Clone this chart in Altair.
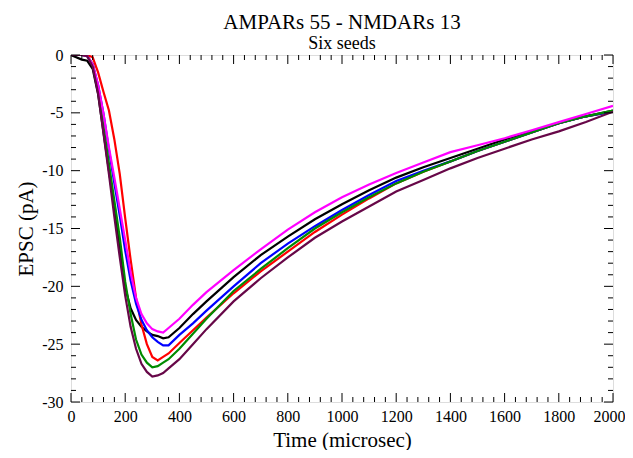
import altair as alt
import pandas as pd

# Time grid (microsec) and EPSC (pA)
T = [0, 40, 60, 80, 100, 120, 140, 160, 180, 200, 220, 240, 260, 280, 300, 320, 340, 360,
     400, 450, 500, 600, 700, 800, 900, 1000, 1100, 1200, 1300, 1400, 1500, 1600, 1700,
     1800, 1900, 2000]

black = [0, -0.4, -0.5, -1.2, -3.4, -6.7, -10.0, -13.3, -16.6, -20.1, -21.9, -22.9, -23.5,
         -23.9, -24.2, -24.3, -24.5, -24.4, -23.6, -22.4, -21.3, -19.2, -17.3, -15.7, -14.2,
         -12.9, -11.7, -10.6, -9.7, -8.9, -8.1, -7.3, -6.6, -5.9, -5.3, -4.8]
red = [0, 0, 0, -0.2, -1.5, -3.2, -4.8, -7.3, -10.3, -14.1, -17.7, -21.0, -23.3, -25.0,
       -26.1, -26.4, -26.1, -25.8, -24.9, -23.8, -22.7, -20.6, -18.7, -17.0, -15.3, -13.8,
       -12.4, -11.1, -10.1, -9.2, -8.3, -7.5, -6.7, -5.9, -5.3, -4.9]
blue = [0, 0, -0.1, -0.8, -2.6, -5.1, -8.2, -11.1, -13.9, -16.9, -19.5, -21.5, -22.9, -23.8,
        -24.4, -24.8, -25.1, -25.1, -24.2, -23.2, -22.1, -20.0, -18.0, -16.3, -14.8, -13.4,
        -12.1, -10.9, -10.0, -9.2, -8.3, -7.5, -6.7, -5.9, -5.3, -4.9]
green = [0, 0, -0.1, -0.8, -3.0, -6.2, -9.4, -12.6, -15.8, -19.6, -22.4, -24.6, -25.9, -26.6,
         -27.0, -26.9, -26.6, -26.3, -25.4, -24.1, -22.8, -20.4, -18.5, -16.7, -15.0, -13.6,
         -12.3, -11.1, -10.1, -9.2, -8.3, -7.5, -6.7, -5.9, -5.3, -4.8]
magenta = [0, 0, -0.1, -0.8, -2.6, -5.1, -8.0, -10.6, -13.3, -16.0, -18.8, -21.0, -22.4, -23.2,
           -23.7, -23.9, -24.0, -23.6, -22.8, -21.6, -20.5, -18.6, -16.8, -15.1, -13.6, -12.3,
           -11.2, -10.2, -9.3, -8.4, -7.8, -7.2, -6.5, -5.8, -5.1, -4.4]
maroon = [0, 0, -0.1, -1.0, -3.3, -6.8, -10.3, -14.0, -17.5, -20.8, -23.5, -25.4, -26.7, -27.4,
          -27.8, -27.7, -27.5, -27.1, -26.3, -25.0, -23.7, -21.3, -19.3, -17.5, -15.8, -14.4,
          -13.1, -11.8, -10.8, -9.8, -8.9, -8.1, -7.3, -6.6, -5.8, -4.9]

series_names = ["black", "red", "blue", "green", "magenta", "maroon"]
series_colors = ["#000000", "#FF0000", "#0000FF", "#008B00", "#FF00FF", "#670748"]
series_values = [black, red, blue, green, magenta, maroon]

x_major = [0, 200, 400, 600, 800, 1000, 1200, 1400, 1600, 1800, 2000]
x_minor = [t for t in range(40, 2000, 40) if t % 200 != 0]
y_major = [0, -5, -10, -15, -20, -25, -30]
y_minor = [v for v in range(-29, 0) if v % 5 != 0]

rows = []
for i, (name, vals) in enumerate(zip(series_names, series_values)):
    for t, v in zip(T, vals):
        rows.append({"t": t, "v": v, "s": name, "o": i})
df = pd.DataFrame(rows)

W, H = 542, 347
FONT = "Liberation Serif"
xs = alt.Scale(domain=[0, 2000], nice=False, zero=False)
ys = alt.Scale(domain=[-30, 0], nice=False, zero=False)

x_axis = alt.Axis(
    title="Time (microsec)", values=x_major, ticks=False, tickSize=0, domain=False,
    grid=False, labelExpr="'' + datum.value", labelFont=FONT, labelFontSize=16,
    labelColor="black", labelPadding=6, titleFont=FONT, titleFontSize=21,
    titleFontWeight="normal", titleColor="black", titlePadding=5, labelFlush=False,
    labelOffset={"condition": {"test": "datum.value == 2000", "value": -4}, "value": 0})
y_axis = alt.Axis(
    title="EPSC (pA)", values=y_major, ticks=False, tickSize=0, domain=False,
    grid=False, labelExpr="'' + datum.value", labelFont=FONT, labelFontSize=16,
    labelColor="black", labelPadding=8, titleFont=FONT, titleFontSize=21,
    titleFontWeight="normal", titleColor="black", titlePadding=5, labelFlush=False)

lines = alt.Chart(df).mark_line(strokeWidth=2.2, clip=True).encode(
    x=alt.X("t:Q", scale=xs, axis=x_axis, title="Time (microsec)"),
    y=alt.Y("v:Q", scale=ys, axis=y_axis, title="EPSC (pA)"),
    color=alt.Color("s:N", scale=alt.Scale(domain=series_names, range=series_colors), legend=None),
    order=alt.Order("o:Q"),
)

xmaj = pd.DataFrame({"t": x_major})
xmin = pd.DataFrame({"t": x_minor})
ymaj = pd.DataFrame({"v": y_major})
ymin = pd.DataFrame({"v": y_minor})

def xticks(d, L):
    bottom = alt.Chart(d).mark_rule(color="black", strokeWidth=1).encode(
        x=alt.X("t:Q", scale=xs, axis=x_axis, title="Time (microsec)"),
        y=alt.value(H), y2=alt.value(H - L))
    top = alt.Chart(d).mark_rule(color="black", strokeWidth=1).encode(
        x=alt.X("t:Q", scale=xs, axis=x_axis, title="Time (microsec)"),
        y=alt.value(0), y2=alt.value(L))
    return [bottom, top]

def yticks(d, L):
    left = alt.Chart(d).mark_rule(color="black", strokeWidth=1).encode(
        y=alt.Y("v:Q", scale=ys, axis=y_axis, title="EPSC (pA)"),
        x=alt.value(0), x2=alt.value(L))
    right = alt.Chart(d).mark_rule(color="black", strokeWidth=1).encode(
        y=alt.Y("v:Q", scale=ys, axis=y_axis, title="EPSC (pA)"),
        x=alt.value(W), x2=alt.value(W - L))
    return [left, right]

layers = [lines] + xticks(xmaj, 9) + xticks(xmin, 5) + yticks(ymaj, 9) + yticks(ymin, 5)

chart = alt.layer(*layers).properties(
    width=W, height=H,
    title=alt.TitleParams(
        text="AMPARs 55 - NMDARs 13", subtitle="Six seeds", font=FONT, fontSize=21,
        fontWeight="normal", color="black", subtitleFont=FONT, subtitleFontSize=18,
        subtitleColor="black", subtitlePadding=2, anchor="middle", offset=-6, frame="group"),
    padding={"left": 63, "top": 47, "right": 12, "bottom": 48},
    autosize=alt.AutoSizeParams(type="none"),
).configure_view(stroke="black", strokeWidth=1.5).configure(background="white")

chart.save("out.html", embed_options={"renderer": "svg", "actions": False})
